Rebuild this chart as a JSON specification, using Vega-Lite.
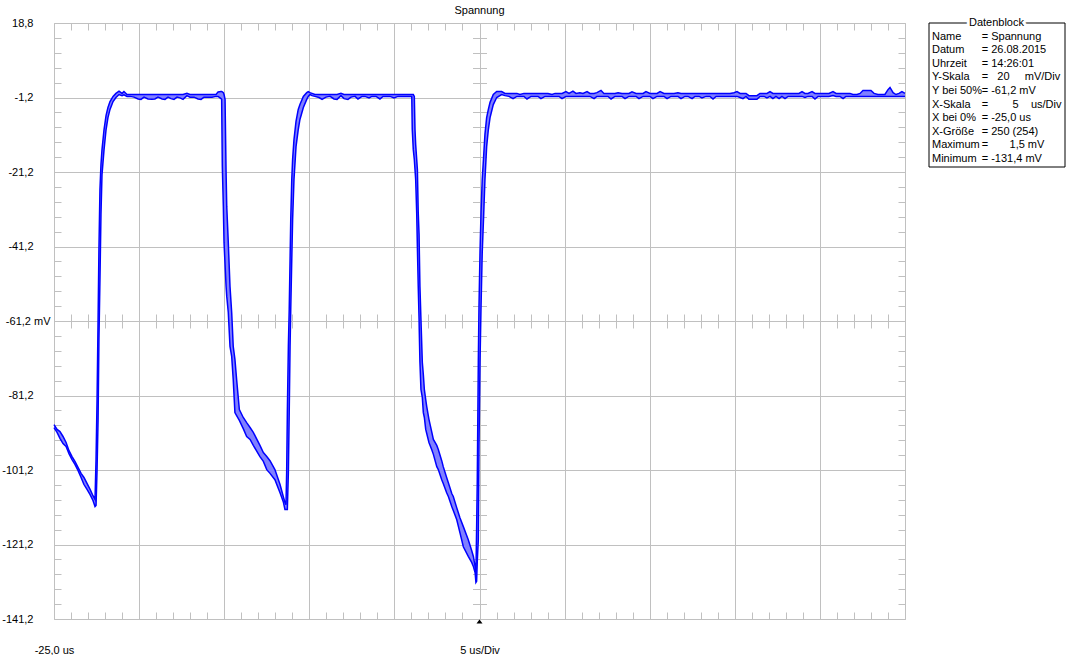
{
  "$schema": "https://vega.github.io/schema/vega-lite/v6.json",
  "background": "white",
  "padding": {"left": 0, "top": 5, "right": 0, "bottom": 0},
  "spacing": 24,
  "bounds": "flush",
  "config": {
    "view": {"stroke": null},
    "font": "Liberation Sans",
    "text": {"font": "Liberation Sans", "fontSize": 11},
    "axis": {"labelFont": "Liberation Sans", "labelFontSize": 11, "labelColor": "#000000", "title": null}
  },
  "datasets": {
    "wave": [
      {"t":-25.00,"hi":-89.0,"lo":-89.8},
      {"t":-24.82,"hi":-90.3,"lo":-91.1},
      {"t":-24.65,"hi":-90.9,"lo":-92.7},
      {"t":-24.47,"hi":-92.2,"lo":-94.1},
      {"t":-24.29,"hi":-93.8,"lo":-94.9},
      {"t":-24.12,"hi":-96.0,"lo":-96.8},
      {"t":-23.94,"hi":-97.6,"lo":-98.4},
      {"t":-23.77,"hi":-98.9,"lo":-99.7},
      {"t":-23.59,"hi":-100.5,"lo":-101.3},
      {"t":-23.41,"hi":-102.1,"lo":-103.2},
      {"t":-23.24,"hi":-103.2,"lo":-105.1},
      {"t":-23.06,"hi":-104.8,"lo":-106.4},
      {"t":-22.88,"hi":-106.4,"lo":-107.8},
      {"t":-22.71,"hi":-108.1,"lo":-109.4},
      {"t":-22.59,"hi":-109.1,"lo":-111.0},
      {"t":-22.53,"hi":-98.4,"lo":-110.7},
      {"t":-22.47,"hi":-82.3,"lo":-101.1},
      {"t":-22.41,"hi":-60.8,"lo":-87.6},
      {"t":-22.36,"hi":-42.0,"lo":-66.2},
      {"t":-22.30,"hi":-25.9,"lo":-50.1},
      {"t":-22.24,"hi":-19.2,"lo":-32.6},
      {"t":-22.18,"hi":-15.2,"lo":-21.9},
      {"t":-22.06,"hi":-9.8,"lo":-15.2},
      {"t":-21.94,"hi":-6.0,"lo":-9.8},
      {"t":-21.83,"hi":-3.9,"lo":-6.6},
      {"t":-21.71,"hi":-2.3,"lo":-4.4},
      {"t":-21.53,"hi":-0.9,"lo":-2.3},
      {"t":-21.36,"hi":-0.1,"lo":-1.2},
      {"t":-21.18,"hi":0.5,"lo":-0.4},
      {"t":-21.00,"hi":-0.1,"lo":-0.7},
      {"t":-20.89,"hi":0.4,"lo":-0.5},
      {"t":-20.71,"hi":-0.4,"lo":-0.9},
      {"t":-20.53,"hi":-0.4,"lo":-0.9},
      {"t":-20.30,"hi":-0.4,"lo":-1.1},
      {"t":-20.06,"hi":-0.4,"lo":-1.6},
      {"t":-19.89,"hi":-0.4,"lo":-1.7},
      {"t":-19.71,"hi":-0.4,"lo":-1.1},
      {"t":-19.48,"hi":-0.4,"lo":-1.6},
      {"t":-19.24,"hi":-0.4,"lo":-1.7},
      {"t":-19.07,"hi":-0.4,"lo":-1.6},
      {"t":-18.89,"hi":-0.4,"lo":-1.1},
      {"t":-18.65,"hi":-0.4,"lo":-1.6},
      {"t":-18.48,"hi":-0.4,"lo":-1.7},
      {"t":-18.30,"hi":-0.4,"lo":-1.1},
      {"t":-18.13,"hi":-0.4,"lo":-1.5},
      {"t":-17.95,"hi":-0.4,"lo":-1.7},
      {"t":-17.77,"hi":-0.4,"lo":-1.1},
      {"t":-17.60,"hi":-0.4,"lo":-1.3},
      {"t":-17.42,"hi":-0.4,"lo":-1.7},
      {"t":-17.19,"hi":-0.1,"lo":-0.7},
      {"t":-17.01,"hi":-0.4,"lo":-1.1},
      {"t":-16.77,"hi":-0.4,"lo":-1.1},
      {"t":-16.54,"hi":-0.4,"lo":-1.6},
      {"t":-16.36,"hi":-0.4,"lo":-1.7},
      {"t":-16.19,"hi":-0.4,"lo":-1.1},
      {"t":-15.95,"hi":-0.4,"lo":-1.1},
      {"t":-15.72,"hi":-0.4,"lo":-1.1},
      {"t":-15.48,"hi":-0.4,"lo":-0.9},
      {"t":-15.36,"hi":0.3,"lo":-0.9},
      {"t":-15.19,"hi":0.4,"lo":-1.5},
      {"t":-15.15,"hi":0.4,"lo":-1.7},
      {"t":-15.11,"hi":0.3,"lo":-19.7},
      {"t":-15.05,"hi":0.1,"lo":-30.5},
      {"t":-15.01,"hi":-0.4,"lo":-40.1},
      {"t":-14.95,"hi":-1.7,"lo":-46.0},
      {"t":-14.89,"hi":-21.3,"lo":-51.9},
      {"t":-14.85,"hi":-30.5,"lo":-54.6},
      {"t":-14.76,"hi":-40.1,"lo":-58.9},
      {"t":-14.66,"hi":-51.9,"lo":-68.0},
      {"t":-14.56,"hi":-58.9,"lo":-70.7},
      {"t":-14.47,"hi":-68.0,"lo":-76.9},
      {"t":-14.37,"hi":-71.5,"lo":-85.8},
      {"t":-14.27,"hi":-76.9,"lo":-86.6},
      {"t":-14.11,"hi":-85.0,"lo":-87.9},
      {"t":-13.88,"hi":-87.1,"lo":-90.1},
      {"t":-13.68,"hi":-88.5,"lo":-92.2},
      {"t":-13.48,"hi":-89.8,"lo":-93.0},
      {"t":-13.29,"hi":-91.1,"lo":-94.6},
      {"t":-12.90,"hi":-94.6,"lo":-97.6},
      {"t":-12.70,"hi":-96.5,"lo":-98.9},
      {"t":-12.50,"hi":-97.6,"lo":-101.1},
      {"t":-12.31,"hi":-98.7,"lo":-102.1},
      {"t":-12.02,"hi":-101.1,"lo":-103.8},
      {"t":-11.72,"hi":-105.1,"lo":-107.3},
      {"t":-11.53,"hi":-108.3,"lo":-109.7},
      {"t":-11.43,"hi":-109.9,"lo":-111.8},
      {"t":-11.37,"hi":-110.5,"lo":-111.8},
      {"t":-11.33,"hi":-101.9,"lo":-111.8},
      {"t":-11.29,"hi":-85.8,"lo":-111.8},
      {"t":-11.23,"hi":-68.0,"lo":-101.9},
      {"t":-11.18,"hi":-58.1,"lo":-85.8},
      {"t":-11.13,"hi":-44.7,"lo":-68.0},
      {"t":-11.09,"hi":-34.0,"lo":-58.1},
      {"t":-11.03,"hi":-23.2,"lo":-44.7},
      {"t":-10.98,"hi":-17.8,"lo":-34.0},
      {"t":-10.90,"hi":-12.5,"lo":-23.2},
      {"t":-10.78,"hi":-7.6,"lo":-14.4},
      {"t":-10.65,"hi":-4.4,"lo":-9.8},
      {"t":-10.55,"hi":-3.1,"lo":-7.1},
      {"t":-10.35,"hi":-0.9,"lo":-3.9},
      {"t":-10.15,"hi":0.1,"lo":-1.7},
      {"t":-10.06,"hi":0.4,"lo":-0.9},
      {"t":-9.96,"hi":0.1,"lo":-0.4},
      {"t":-9.84,"hi":-0.1,"lo":-0.7},
      {"t":-9.67,"hi":-0.4,"lo":-0.9},
      {"t":-9.43,"hi":-0.4,"lo":-1.2},
      {"t":-9.25,"hi":-0.4,"lo":-1.7},
      {"t":-9.02,"hi":-0.4,"lo":-1.1},
      {"t":-8.78,"hi":-0.4,"lo":-0.9},
      {"t":-8.55,"hi":-0.4,"lo":-1.6},
      {"t":-8.37,"hi":-0.4,"lo":-1.7},
      {"t":-8.14,"hi":-0.1,"lo":-0.7},
      {"t":-7.96,"hi":-0.4,"lo":-1.5},
      {"t":-7.73,"hi":-0.4,"lo":-1.7},
      {"t":-7.55,"hi":-0.4,"lo":-1.1},
      {"t":-7.31,"hi":-0.4,"lo":-0.9},
      {"t":-7.14,"hi":-0.4,"lo":-1.6},
      {"t":-6.90,"hi":-0.4,"lo":-0.9},
      {"t":-6.73,"hi":-0.4,"lo":-0.9},
      {"t":-6.49,"hi":-0.4,"lo":-1.3},
      {"t":-6.32,"hi":-0.4,"lo":-0.9},
      {"t":-6.08,"hi":-0.4,"lo":-0.9},
      {"t":-5.85,"hi":-0.4,"lo":-1.6},
      {"t":-5.67,"hi":-0.4,"lo":-0.9},
      {"t":-5.43,"hi":-0.4,"lo":-0.9},
      {"t":-5.26,"hi":-0.4,"lo":-0.9},
      {"t":-5.02,"hi":-0.4,"lo":-1.3},
      {"t":-4.79,"hi":-0.4,"lo":-0.9},
      {"t":-4.55,"hi":-0.4,"lo":-0.9},
      {"t":-4.32,"hi":-0.4,"lo":-0.9},
      {"t":-4.08,"hi":-0.4,"lo":-0.9},
      {"t":-3.98,"hi":-0.4,"lo":-0.9},
      {"t":-3.95,"hi":-0.4,"lo":-9.8},
      {"t":-3.89,"hi":-0.4,"lo":-15.2},
      {"t":-3.83,"hi":-0.9,"lo":-17.8},
      {"t":-3.79,"hi":-9.8,"lo":-20.5},
      {"t":-3.75,"hi":-13.8,"lo":-23.2},
      {"t":-3.69,"hi":-17.8,"lo":-32.1},
      {"t":-3.65,"hi":-20.5,"lo":-41.2},
      {"t":-3.60,"hi":-32.1,"lo":-51.9},
      {"t":-3.55,"hi":-38.0,"lo":-60.8},
      {"t":-3.54,"hi":-41.2,"lo":-63.5},
      {"t":-3.50,"hi":-51.9,"lo":-72.3},
      {"t":-3.44,"hi":-60.8,"lo":-79.6},
      {"t":-3.36,"hi":-72.3,"lo":-81.7},
      {"t":-3.30,"hi":-75.6,"lo":-85.8},
      {"t":-3.24,"hi":-79.6,"lo":-87.1},
      {"t":-3.16,"hi":-82.3,"lo":-90.3},
      {"t":-3.10,"hi":-84.2,"lo":-91.4},
      {"t":-2.97,"hi":-87.6,"lo":-93.8},
      {"t":-2.81,"hi":-90.9,"lo":-95.7},
      {"t":-2.71,"hi":-93.0,"lo":-97.0},
      {"t":-2.51,"hi":-94.6,"lo":-100.3},
      {"t":-2.42,"hi":-95.7,"lo":-101.1},
      {"t":-2.22,"hi":-98.7,"lo":-103.8},
      {"t":-2.13,"hi":-100.3,"lo":-104.8},
      {"t":-1.93,"hi":-103.2,"lo":-107.3},
      {"t":-1.83,"hi":-104.6,"lo":-108.3},
      {"t":-1.63,"hi":-107.5,"lo":-111.0},
      {"t":-1.54,"hi":-108.3,"lo":-112.1},
      {"t":-1.34,"hi":-111.3,"lo":-114.5},
      {"t":-1.15,"hi":-114.0,"lo":-118.0},
      {"t":-0.95,"hi":-116.4,"lo":-121.8},
      {"t":-0.66,"hi":-119.9,"lo":-124.4},
      {"t":-0.46,"hi":-122.8,"lo":-126.0},
      {"t":-0.36,"hi":-124.4,"lo":-127.1},
      {"t":-0.26,"hi":-127.1,"lo":-128.7},
      {"t":-0.21,"hi":-129.2,"lo":-131.4},
      {"t":-0.17,"hi":-117.2,"lo":-131.1},
      {"t":-0.13,"hi":-103.8,"lo":-125.7},
      {"t":-0.07,"hi":-72.3,"lo":-119.9},
      {"t":-0.03,"hi":-57.3,"lo":-94.9},
      {"t":0.03,"hi":-42.8,"lo":-72.3},
      {"t":0.09,"hi":-32.1,"lo":-57.3},
      {"t":0.16,"hi":-23.2,"lo":-42.8},
      {"t":0.25,"hi":-16.5,"lo":-32.1},
      {"t":0.32,"hi":-11.1,"lo":-23.2},
      {"t":0.42,"hi":-6.6,"lo":-14.4},
      {"t":0.52,"hi":-4.4,"lo":-9.8},
      {"t":0.62,"hi":-2.5,"lo":-6.6},
      {"t":0.81,"hi":-0.4,"lo":-3.1},
      {"t":1.01,"hi":0.4,"lo":-1.2},
      {"t":1.30,"hi":0.4,"lo":-0.4},
      {"t":1.50,"hi":-0.1,"lo":-0.7},
      {"t":1.73,"hi":-0.1,"lo":-0.9},
      {"t":1.97,"hi":-0.1,"lo":-1.5},
      {"t":2.20,"hi":-0.1,"lo":-0.9},
      {"t":2.38,"hi":-0.4,"lo":-0.9},
      {"t":2.61,"hi":-0.1,"lo":-0.9},
      {"t":2.79,"hi":-0.1,"lo":-1.6},
      {"t":3.03,"hi":-0.1,"lo":-0.9},
      {"t":3.20,"hi":-0.1,"lo":-0.9},
      {"t":3.44,"hi":-0.1,"lo":-0.9},
      {"t":3.61,"hi":-0.1,"lo":-1.5},
      {"t":3.85,"hi":-0.1,"lo":-0.9},
      {"t":4.02,"hi":-0.1,"lo":-0.9},
      {"t":4.26,"hi":-0.4,"lo":-0.9},
      {"t":4.44,"hi":-0.1,"lo":-0.9},
      {"t":4.67,"hi":-0.1,"lo":-0.9},
      {"t":4.85,"hi":-0.1,"lo":-1.5},
      {"t":5.08,"hi":0.4,"lo":-0.9},
      {"t":5.26,"hi":-0.1,"lo":-0.9},
      {"t":5.49,"hi":0.5,"lo":-0.9},
      {"t":5.67,"hi":-0.1,"lo":-0.9},
      {"t":5.90,"hi":0.1,"lo":-0.9},
      {"t":6.08,"hi":-0.1,"lo":-0.9},
      {"t":6.32,"hi":0.4,"lo":-0.9},
      {"t":6.49,"hi":-0.1,"lo":-0.9},
      {"t":6.73,"hi":-0.1,"lo":-1.5},
      {"t":6.90,"hi":0.1,"lo":-0.9},
      {"t":7.14,"hi":0.7,"lo":-0.9},
      {"t":7.31,"hi":-0.1,"lo":-0.9},
      {"t":7.55,"hi":-0.1,"lo":-0.9},
      {"t":7.73,"hi":-0.1,"lo":-1.6},
      {"t":7.96,"hi":-0.1,"lo":-0.9},
      {"t":8.14,"hi":0.1,"lo":-0.9},
      {"t":8.37,"hi":-0.1,"lo":-0.9},
      {"t":8.55,"hi":-0.1,"lo":-1.5},
      {"t":8.78,"hi":-0.1,"lo":-0.9},
      {"t":8.96,"hi":0.3,"lo":-0.9},
      {"t":9.20,"hi":-0.1,"lo":-0.9},
      {"t":9.37,"hi":-0.1,"lo":-1.5},
      {"t":9.61,"hi":-0.1,"lo":-0.9},
      {"t":9.78,"hi":0.4,"lo":-0.9},
      {"t":10.02,"hi":-0.1,"lo":-0.9},
      {"t":10.19,"hi":-0.1,"lo":-1.5},
      {"t":10.43,"hi":-0.1,"lo":-0.9},
      {"t":10.61,"hi":0.4,"lo":-0.9},
      {"t":10.84,"hi":-0.1,"lo":-0.9},
      {"t":11.02,"hi":-0.1,"lo":-1.5},
      {"t":11.25,"hi":-0.1,"lo":-0.9},
      {"t":11.43,"hi":-0.1,"lo":-0.9},
      {"t":11.66,"hi":0.1,"lo":-0.9},
      {"t":11.84,"hi":-0.1,"lo":-1.5},
      {"t":12.07,"hi":-0.1,"lo":-0.9},
      {"t":12.25,"hi":-0.1,"lo":-0.9},
      {"t":12.49,"hi":-0.1,"lo":-1.5},
      {"t":12.66,"hi":-0.1,"lo":-0.9},
      {"t":12.90,"hi":-0.1,"lo":-0.9},
      {"t":13.07,"hi":-0.1,"lo":-1.3},
      {"t":13.31,"hi":-0.1,"lo":-0.9},
      {"t":13.54,"hi":-0.1,"lo":-0.9},
      {"t":13.72,"hi":-0.1,"lo":-1.6},
      {"t":13.90,"hi":-0.1,"lo":-0.9},
      {"t":14.13,"hi":-0.1,"lo":-0.9},
      {"t":14.31,"hi":-0.1,"lo":-0.9},
      {"t":14.54,"hi":-0.1,"lo":-0.9},
      {"t":14.72,"hi":-0.1,"lo":-0.9},
      {"t":14.95,"hi":0.1,"lo":-0.9},
      {"t":15.13,"hi":0.4,"lo":-0.9},
      {"t":15.31,"hi":-0.1,"lo":-1.2},
      {"t":15.48,"hi":-0.1,"lo":-1.5},
      {"t":15.66,"hi":-0.1,"lo":-0.9},
      {"t":15.83,"hi":-0.7,"lo":-1.7},
      {"t":16.07,"hi":-0.7,"lo":-1.7},
      {"t":16.30,"hi":-0.7,"lo":-1.7},
      {"t":16.48,"hi":-0.1,"lo":-0.9},
      {"t":16.72,"hi":-0.1,"lo":-0.9},
      {"t":16.89,"hi":-0.1,"lo":-1.3},
      {"t":17.07,"hi":0.4,"lo":-0.9},
      {"t":17.24,"hi":-0.1,"lo":-1.5},
      {"t":17.42,"hi":-0.1,"lo":-0.9},
      {"t":17.60,"hi":-0.1,"lo":-1.5},
      {"t":17.77,"hi":-0.1,"lo":-0.9},
      {"t":17.95,"hi":-0.1,"lo":-1.5},
      {"t":18.13,"hi":-0.1,"lo":-0.9},
      {"t":18.36,"hi":-0.1,"lo":-0.9},
      {"t":18.54,"hi":-0.1,"lo":-0.9},
      {"t":18.77,"hi":-0.1,"lo":-0.9},
      {"t":18.95,"hi":0.4,"lo":-0.9},
      {"t":19.12,"hi":-0.1,"lo":-1.2},
      {"t":19.30,"hi":-0.1,"lo":-0.9},
      {"t":19.54,"hi":0.4,"lo":-0.9},
      {"t":19.71,"hi":-0.1,"lo":-1.6},
      {"t":19.89,"hi":-0.1,"lo":-0.9},
      {"t":20.12,"hi":-0.1,"lo":-0.9},
      {"t":20.30,"hi":-0.1,"lo":-0.9},
      {"t":20.53,"hi":-0.1,"lo":-0.9},
      {"t":20.77,"hi":0.4,"lo":-0.7},
      {"t":20.95,"hi":-0.1,"lo":-0.9},
      {"t":21.18,"hi":-0.1,"lo":-0.9},
      {"t":21.36,"hi":-0.1,"lo":-1.5},
      {"t":21.53,"hi":-0.1,"lo":-0.9},
      {"t":21.77,"hi":-0.1,"lo":-0.9},
      {"t":21.94,"hi":-0.4,"lo":-0.9},
      {"t":22.18,"hi":-0.4,"lo":-0.9},
      {"t":22.36,"hi":-0.1,"lo":-0.9},
      {"t":22.53,"hi":0.7,"lo":-0.9},
      {"t":22.77,"hi":0.7,"lo":-0.9},
      {"t":23.00,"hi":0.7,"lo":-0.9},
      {"t":23.18,"hi":-0.1,"lo":-0.9},
      {"t":23.41,"hi":-0.4,"lo":-0.9},
      {"t":23.59,"hi":-0.4,"lo":-0.9},
      {"t":23.82,"hi":-0.4,"lo":-0.9},
      {"t":24.00,"hi":0.9,"lo":-0.9},
      {"t":24.12,"hi":1.5,"lo":-0.9},
      {"t":24.30,"hi":0.1,"lo":-0.9},
      {"t":24.47,"hi":-0.4,"lo":-0.9},
      {"t":24.65,"hi":-0.1,"lo":-0.9},
      {"t":24.82,"hi":0.4,"lo":-0.9},
      {"t":25.00,"hi":-0.1,"lo":-0.9}
    ],
    "info": [
      {"row":1,"label":"Name","value":"= Spannung"},
      {"row":2,"label":"Datum","value":"= 26.08.2015"},
      {"row":3,"label":"Uhrzeit","value":"= 14:26:01"},
      {"row":4,"label":"Y-Skala","value":"=\u00a0\u00a0\u00a020\u00a0\u00a0\u00a0\u00a0\u00a0mV/Div"},
      {"row":5,"label":"Y bei 50%","value":"\u00a0\u00a0= -61,2 mV"},
      {"row":6,"label":"X-Skala","value":"=\u00a0\u00a0\u00a0\u00a0\u00a0\u00a0\u00a0\u00a05\u00a0\u00a0\u00a0\u00a0us/Div"},
      {"row":7,"label":"X bei 0%","value":"= -25,0 us"},
      {"row":8,"label":"X-Größe","value":"= 250 (254)"},
      {"row":9,"label":"Maximum","value":"\u00a0=\u00a0\u00a0\u00a0\u00a0\u00a0\u00a0\u00a01,5 mV"},
      {"row":10,"label":"Minimum","value":"= -131,4 mV"}
    ]
  },
  "hconcat": [
    {
      "width": 851,
      "height": 596,
      "title": {"text": "Spannung", "font": "Liberation Sans", "fontSize": 11, "fontWeight": "normal", "color": "#000000", "offset": 1, "anchor": "middle", "frame": "group"},
      "data": {"name": "wave"},
      "layer": [
        {
          "mark": {"type": "area", "fill": "#8080ff", "opacity": 1},
          "encoding": {
            "x": {"field": "t", "type": "quantitative",
              "scale": {"domain": [-25, 25], "nice": false, "zero": false},
              "axis": {"orient": "bottom", "values": [-25,-20,-15,-10,-5,0,5,10,15,20,25], "grid": true, "gridColor": "#c0c0c0", "gridOpacity": 1, "gridWidth": 1, "ticks": false, "domain": false, "title": null, "labelFlush": false, "labelOverlap": false, "labelBound": false, "labelPadding": 25,
                "labelExpr": "datum.value == -25 ? '-25,0 us' : (datum.value == 0 ? '5 us/Div' : '')"}},
            "y": {"field": "lo", "type": "quantitative",
              "scale": {"domain": [-141.2, 18.8], "nice": false, "zero": false},
              "axis": {"orient": "left", "values": [18.8,-1.2,-21.2,-41.2,-61.2,-81.2,-101.2,-121.2,-141.2], "grid": true, "gridColor": "#c0c0c0", "gridOpacity": 1, "gridWidth": 1, "ticks": false, "domain": false, "title": null, "labelFlush": false, "labelOverlap": false, "labelBound": false, "minExtent": 54, "maxExtent": 54,
                "labelPadding": {"condition": {"test": "abs(datum.value + 61.2) < 0.01", "value": 4}, "value": 21},
                "labelExpr": "replace(toString(datum.value), '.', ',') + (abs(datum.value + 61.2) < 0.01 ? ' mV' : '')"}},
            "y2": {"field": "hi"}
          }
        },
        {
          "mark": {"type": "line", "stroke": "#0000ff", "strokeWidth": 1.5},
          "encoding": {
            "x": {"field": "t", "type": "quantitative",
              "axis": {"orient": "top", "values": [-25,-24,-23,-22,-21,-20,-19,-18,-17,-16,-15,-14,-13,-12,-11,-10,-9,-8,-7,-6,-5,-4,-3,-2,-1,0,1,2,3,4,5,6,7,8,9,10,11,12,13,14,15,16,17,18,19,20,21,22,23,24,25], "ticks": true, "tickSize": -7, "tickColor": "#c0c0c0", "tickWidth": 1, "labels": false, "domain": false, "grid": false, "title": null, "minExtent": 0, "maxExtent": 0}},
            "y": {"field": "hi", "type": "quantitative",
              "axis": {"orient": "right", "values": [18.8,14.8,10.8,6.8,2.8,-1.2,-5.2,-9.2,-13.2,-17.2,-21.2,-25.2,-29.2,-33.2,-37.2,-41.2,-45.2,-49.2,-53.2,-57.2,-61.2,-65.2,-69.2,-73.2,-77.2,-81.2,-85.2,-89.2,-93.2,-97.2,-101.2,-105.2,-109.2,-113.2,-117.2,-121.2,-125.2,-129.2,-133.2,-137.2,-141.2], "ticks": true, "tickSize": -7, "tickColor": "#c0c0c0", "tickWidth": 1, "labels": false, "domain": false, "grid": false, "title": null, "minExtent": 0, "maxExtent": 0}}
          }
        },
        {
          "mark": {"type": "line", "stroke": "#0000ff", "strokeWidth": 1.5},
          "encoding": {
            "x": {"field": "t", "type": "quantitative",
              "axis": {"orient": "bottom", "values": [-25,-24,-23,-22,-21,-20,-19,-18,-17,-16,-15,-14,-13,-12,-11,-10,-9,-8,-7,-6,-5,-4,-3,-2,-1,0,1,2,3,4,5,6,7,8,9,10,11,12,13,14,15,16,17,18,19,20,21,22,23,24,25], "ticks": true, "tickSize": -7, "tickColor": "#c0c0c0", "tickWidth": 1, "labels": false, "domain": false, "grid": false, "title": null, "minExtent": 0, "maxExtent": 0}},
            "y": {"field": "lo", "type": "quantitative",
              "axis": {"orient": "left", "values": [18.8,14.8,10.8,6.8,2.8,-1.2,-5.2,-9.2,-13.2,-17.2,-21.2,-25.2,-29.2,-33.2,-37.2,-41.2,-45.2,-49.2,-53.2,-57.2,-61.2,-65.2,-69.2,-73.2,-77.2,-81.2,-85.2,-89.2,-93.2,-97.2,-101.2,-105.2,-109.2,-113.2,-117.2,-121.2,-125.2,-129.2,-133.2,-137.2,-141.2], "ticks": true, "tickSize": -7, "tickColor": "#c0c0c0", "tickWidth": 1, "labels": false, "domain": false, "grid": false, "title": null, "minExtent": 0, "maxExtent": 0}}
          }
        },
        {
          "mark": {"type": "line", "strokeOpacity": 0},
          "encoding": {
            "x": {"field": "t", "type": "quantitative",
              "axis": {"orient": "top", "offset": -305, "values": [-25,-24,-23,-22,-21,-20,-19,-18,-17,-16,-15,-14,-13,-12,-11,-10,-9,-8,-7,-6,-5,-4,-3,-2,-1,0,1,2,3,4,5,6,7,8,9,10,11,12,13,14,15,16,17,18,19,20,21,22,23,24,25], "ticks": true, "tickSize": 14, "tickColor": "#c0c0c0", "tickWidth": 1, "labels": false, "domain": false, "grid": false, "title": null, "minExtent": 0, "maxExtent": 0}},
            "y": {"field": "hi", "type": "quantitative",
              "axis": {"orient": "left", "offset": -432.5, "values": [18.8,14.8,10.8,6.8,2.8,-1.2,-5.2,-9.2,-13.2,-17.2,-21.2,-25.2,-29.2,-33.2,-37.2,-41.2,-45.2,-49.2,-53.2,-57.2,-61.2,-65.2,-69.2,-73.2,-77.2,-81.2,-85.2,-89.2,-93.2,-97.2,-101.2,-105.2,-109.2,-113.2,-117.2,-121.2,-125.2,-129.2,-133.2,-137.2,-141.2], "ticks": true, "tickSize": 14, "tickColor": "#c0c0c0", "tickWidth": 1, "labels": false, "domain": false, "grid": false, "title": null, "minExtent": 0, "maxExtent": 0}}
          }
        },
        {
          "data": {"values": [{}]},
          "mark": {"type": "point", "shape": "M-1,1.5L1,1.5L0,0.2Z", "size": 36, "filled": true, "color": "#000000", "opacity": 1},
          "encoding": {
            "x": {"datum": 0, "type": "quantitative", "axis": null},
            "y": {"datum": -141.2, "type": "quantitative", "axis": null}
          }
        }
      ],
      "resolve": {"axis": {"x": "independent", "y": "independent"}}
    },
    {
      "width": 136,
      "height": 144,
      "data": {"name": "info"},
      "layer": [
        {
          "data": {"values": [{}]},
          "mark": {"type": "rect", "filled": false, "stroke": "#000000", "strokeWidth": 1},
          "encoding": {
            "x": {"datum": 0, "type": "quantitative", "scale": {"domain": [0, 1], "nice": false, "zero": false}, "axis": null},
            "x2": {"datum": 1},
            "y": {"datum": 0, "type": "quantitative", "scale": {"domain": [0, 10.6], "nice": false, "zero": false, "reverse": true}, "axis": null},
            "y2": {"datum": 10.6}
          }
        },
        {
          "data": {"values": [{}]},
          "mark": {"type": "text", "text": "Datenblock", "fill": "#ffffff", "stroke": "#ffffff", "strokeWidth": 6, "fontSize": 11, "align": "center", "baseline": "middle"},
          "encoding": {
            "x": {"datum": 0.496, "type": "quantitative", "axis": null},
            "y": {"datum": 0, "type": "quantitative", "axis": null}
          }
        },
        {
          "data": {"values": [{}]},
          "mark": {"type": "text", "text": "Datenblock", "fill": "#000000", "fontSize": 11, "align": "center", "baseline": "middle"},
          "encoding": {
            "x": {"datum": 0.496, "type": "quantitative", "axis": null},
            "y": {"datum": 0, "type": "quantitative", "axis": null}
          }
        },
        {
          "mark": {"type": "text", "fill": "#000000", "fontSize": 11, "align": "left", "baseline": "middle"},
          "encoding": {
            "x": {"datum": 0.022, "type": "quantitative", "axis": null},
            "y": {"field": "row", "type": "quantitative", "axis": null},
            "text": {"field": "label"}
          }
        },
        {
          "mark": {"type": "text", "fill": "#000000", "fontSize": 11, "align": "left", "baseline": "middle"},
          "encoding": {
            "x": {"datum": 0.3875, "type": "quantitative", "axis": null},
            "y": {"field": "row", "type": "quantitative", "axis": null},
            "text": {"field": "value"}
          }
        }
      ]
    }
  ]
}
